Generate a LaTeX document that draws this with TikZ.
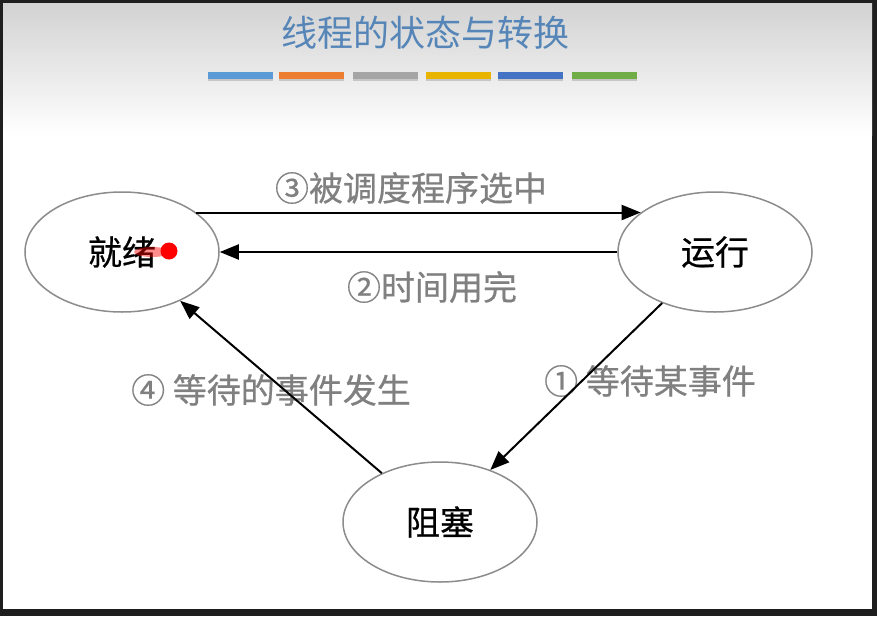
\documentclass[tikz,border=0pt]{standalone}
\usepackage{fontspec}
\setmainfont{Noto Sans CJK SC}
\newfontfamily\midfont[FakeBold=0.6]{Noto Sans CJK SC}
\usepackage{xcolor}
\usepackage{tikz}
\usetikzlibrary{shapes,arrows.meta,positioning,calc,shadows}
\definecolor{titleblue}{RGB}{86,134,184}
\definecolor{labelgray}{RGB}{128,128,128}
\definecolor{edgegray}{RGB}{140,140,140}
\definecolor{framedark}{RGB}{30,30,30}
\definecolor{topgray}{RGB}{210,210,210}
\definecolor{barblue}{RGB}{91,155,213}
\definecolor{barorange}{RGB}{237,125,49}
\definecolor{bargray}{RGB}{165,165,165}
\definecolor{baryellow}{RGB}{232,180,0}
\definecolor{bardarkblue}{RGB}{68,114,196}
\definecolor{bargreen}{RGB}{112,173,71}

\begin{document}
\begin{tikzpicture}[x=1pt, y=-1pt,
    state/.style={ellipse, draw=edgegray, line width=1.5pt, fill=white, minimum width=194pt, minimum height=120pt, inner sep=0pt, font=\midfont\fontsize{34}{40}\selectfont},
    arrow/.style={-{Triangle[length=19pt,width=15pt]}, line width=2pt},
    tag/.style={text=labelgray, font=\midfont\fontsize{34}{40}\selectfont, inner sep=0pt},
    bar/.style={minimum width=65pt, minimum height=7pt, inner sep=0pt, drop shadow={shadow xshift=0pt, shadow yshift=-2pt, opacity=0.35}}
]
    % slide frame and header
    \useasboundingbox (0,0) rectangle (877,616);
    \fill[framedark] (0,0) rectangle (877,616);
    \fill[white] (3,3) rectangle (872,609);
    \shade[top color=topgray, bottom color=white] (3,3) rectangle (872,135);

    \node[text=titleblue, font=\fontsize{36}{42}\selectfont] (title) at (425,33) {线程的状态与转换};

    \node[bar, fill=barblue] (b1) at (240,75) {};
    \node[bar, fill=barorange] (b2) at (311.5,75) {};
    \node[bar, fill=bargray] (b3) at (385.5,75) {};
    \node[bar, fill=baryellow] (b4) at (458.5,75) {};
    \node[bar, fill=bardarkblue] (b5) at (530.5,75) {};
    \node[bar, fill=bargreen] (b6) at (604.5,75) {};

    % states
    \node[state] (ready) at (122,252) {就绪};
    \node[state] (run) at (715,252) {运行};
    \node[state] (block) at (440,522) {阻塞};

    % pointer dot
    \fill[red, opacity=0.45] (152,252) ellipse (18 and 5);
    \fill[red] (169,251) circle (8.5);

    \node[tag] (t3) at (411,188) {③被调度程序选中};
    \node[tag] (t2) at (432,287) {②时间用完};
    \node[tag] (t1) at (650,381) {① 等待某事件};
    \node[tag] (t4) at (271,390) {④ 等待的事件发生};

    \draw[arrow] (ready.28) -- (run.152);
    \draw[arrow] (run.west) -- (ready.east);
    \draw[arrow] (run.224) -- (block.46);
    \draw[arrow] (block.140) -- (ready.320);
\end{tikzpicture}
\end{document}
